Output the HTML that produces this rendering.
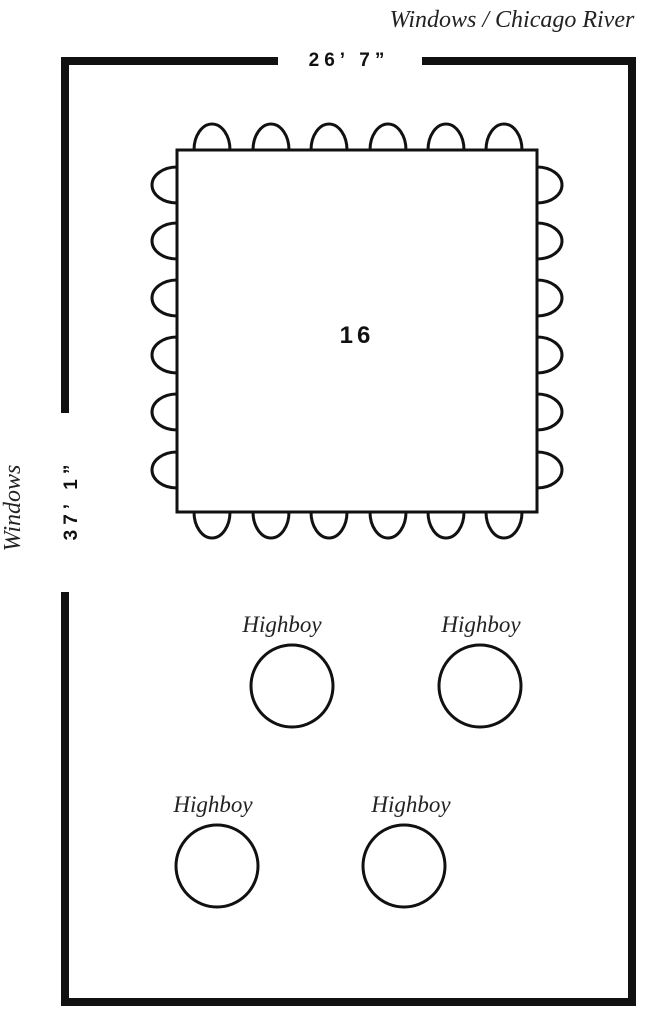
<!DOCTYPE html>
<html><head><style>body{margin:0;background:#fff}</style></head><body>
<svg width="657" height="1024" viewBox="0 0 657 1024" xmlns="http://www.w3.org/2000/svg">
<rect width="657" height="1024" fill="#fff"/>
<g fill="#111">
<rect x="61" y="57" width="217" height="8"/>
<rect x="422" y="57" width="214" height="8"/>
<rect x="61" y="57" width="8" height="356"/>
<rect x="61" y="592" width="8" height="414"/>
<rect x="628" y="57" width="8" height="949"/>
<rect x="61" y="998" width="575" height="8"/>
</g>
<g fill="none" stroke="#111" stroke-width="3">
<path d="M194 150 a18 26 0 0 1 36 0"/><path d="M253 150 a18 26 0 0 1 36 0"/><path d="M311 150 a18 26 0 0 1 36 0"/><path d="M370 150 a18 26 0 0 1 36 0"/><path d="M428 150 a18 26 0 0 1 36 0"/><path d="M486 150 a18 26 0 0 1 36 0"/>
<path d="M194 512 a18 26 0 0 0 36 0"/><path d="M253 512 a18 26 0 0 0 36 0"/><path d="M311 512 a18 26 0 0 0 36 0"/><path d="M370 512 a18 26 0 0 0 36 0"/><path d="M428 512 a18 26 0 0 0 36 0"/><path d="M486 512 a18 26 0 0 0 36 0"/>
<path d="M177 167 a25 18 0 0 0 0 36"/><path d="M177 223 a25 18 0 0 0 0 36"/><path d="M177 280 a25 18 0 0 0 0 36"/><path d="M177 337 a25 18 0 0 0 0 36"/><path d="M177 394 a25 18 0 0 0 0 36"/><path d="M177 452 a25 18 0 0 0 0 36"/>
<path d="M537 167 a25 18 0 0 1 0 36"/><path d="M537 223 a25 18 0 0 1 0 36"/><path d="M537 280 a25 18 0 0 1 0 36"/><path d="M537 337 a25 18 0 0 1 0 36"/><path d="M537 394 a25 18 0 0 1 0 36"/><path d="M537 452 a25 18 0 0 1 0 36"/>
<rect x="177" y="150" width="360" height="362"/>
<circle cx="292" cy="686" r="41"/><circle cx="480" cy="686" r="41"/>
<circle cx="217" cy="866" r="41"/><circle cx="404" cy="866" r="41"/>
</g>
<g font-family="Liberation Sans, sans-serif" font-weight="bold" fill="#111" text-anchor="middle">
<text x="357" y="343" font-size="24" letter-spacing="4">16</text>
<text x="349" y="66" font-size="19" letter-spacing="5">26’ 7”</text>
<text transform="translate(77,500) rotate(-90)" x="0" y="0" font-size="19" letter-spacing="5">37’ 1”</text>
</g>
<g font-family="Liberation Serif, serif" font-style="italic" fill="#222" text-anchor="middle" font-size="23">
<text x="512" y="27" font-size="24">Windows / Chicago River</text>
<text transform="translate(20,508) rotate(-90)" font-size="24">Windows</text>
<text x="282" y="632">Highboy</text>
<text x="481" y="632">Highboy</text>
<text x="213" y="812">Highboy</text>
<text x="411" y="812">Highboy</text>
</g>
</svg>
</body></html>
